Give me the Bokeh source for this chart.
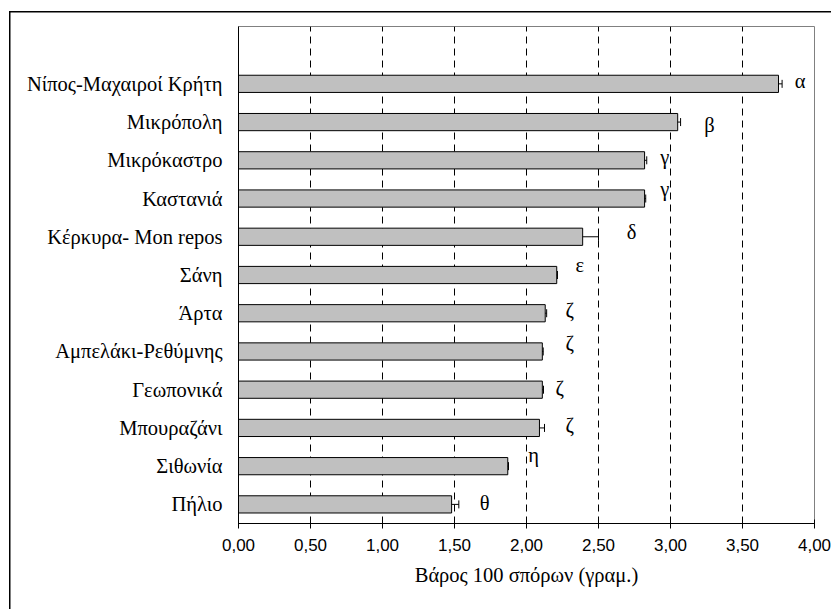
from math import pi
from bokeh.plotting import figure
from bokeh.models import Range1d, FixedTicker, ColumnDataSource
from bokeh.core.properties import value
from bokeh.embed import file_html
from bokeh.resources import INLINE

# ---- data (top to bottom as in the chart) ----
sites = ["Νίπος-Μαχαιροί Κρήτη", "Μικρόπολη", "Μικρόκαστρο", "Καστανιά",
         "Κέρκυρα- Mon repos", "Σάνη", "Άρτα", "Αμπελάκι-Ρεθύμνης",
         "Γεωπονικά", "Μπουραζάνι", "Σιθωνία", "Πήλιο"]
weights = [3.75, 3.05, 2.82, 2.82, 2.39, 2.21, 2.13, 2.11, 2.11, 2.09, 1.87, 1.48]
errors = [0.025, 0.02, 0.015, 0.008, 0.11, 0.005, 0.01, 0.006, 0.008, 0.035, 0.005, 0.05]
letters = ["α", "β", "γ", "γ", "δ", "ε", "ζ", "ζ", "ζ", "ζ", "η", "θ"]
letter_x = [3.90, 3.27, 2.96, 2.96, 2.73, 2.37, 2.30, 2.30, 2.23, 2.30, 2.05, 1.71]
letter_dy = [-1.5, 4.4, -2.4, -8.7, -4.0, -8.8, -2.7, -7.5, -1.0, -2.4, -9.8, 0.0]
x_ticks = [0.0, 0.5, 1.0, 1.5, 2.0, 2.5, 3.0, 3.5, 4.0]
x_tick_labels = ["0,00", "0,50", "1,00", "1,50", "2,00", "2,50", "3,00", "3,50", "4,00"]
x_title = "Βάρος 100 σπόρων (γραμ.)"

SERIF = "Liberation Serif"
SANS = "Liberation Sans"

n = len(sites)
ypos = [n - 1 - i for i in range(n)]
upper = [w + e for w, e in zip(weights, errors)]
src = ColumnDataSource(dict(y=ypos, w=weights, up=upper))
lsrc = ColumnDataSource(dict(x=letter_x, y=ypos, t=letters,
                             dy=[d - 1.0 for d in letter_dy]))

p = figure(width=822, height=598, output_backend="svg", toolbar_location=None,
           x_range=Range1d(0, 4), y_range=Range1d(-0.5, n + 0.5),
           min_border_left=229, min_border_right=17, min_border_top=15,
           min_border_bottom=86)
p.margin = (11, 0, 0, 9)
# outer chart-area border: only its left and top edges fall inside the window
p.styles = {"box-shadow": "inset 1.5px 1.5px 0 0 black", "background": "white"}

p.outline_line_color = "#808080"
p.outline_line_width = 1
p.background_fill_color = "white"
p.border_fill_alpha = 0

p.ygrid.visible = False
p.xgrid.ticker = FixedTicker(ticks=x_ticks[1:-1])
p.xgrid.grid_line_color = "black"
p.xgrid.grid_line_dash = "7 5"
p.xgrid.grid_line_width = 1

p.hbar(y="y", right="w", left=0, height=0.45, source=src,
       fill_color="#c0c0c0", line_color="black", line_width=1)
p.segment(x0="w", y0="y", x1="up", y1="y", source=src, line_color="black", line_width=1)
p.scatter(x="up", y="y", source=src, marker="dash", angle=pi / 2, size=8,
          line_color="black", line_width=1)

p.text(x="x", y="y", text="t", y_offset="dy", source=lsrc,
       text_font=value(SERIF), text_font_size="20.5px",
       text_color="black", text_align="center", text_baseline="alphabetic")

p.xaxis.ticker = FixedTicker(ticks=x_ticks)
p.xaxis.major_label_overrides = {t: l for t, l in zip(x_ticks, x_tick_labels)}
p.xaxis.major_label_text_font = SANS
p.xaxis.major_label_text_font_size = "17px"
p.xaxis.major_label_text_color = "black"
p.xaxis.major_tick_in = 4
p.xaxis.major_tick_out = 5
p.xaxis.minor_tick_line_color = None
p.xaxis.axis_line_color = "black"
p.xaxis.major_tick_line_color = "black"
p.xaxis.major_label_standoff = 10
p.xaxis.axis_label = x_title
p.xaxis.axis_label_text_font = SERIF
p.xaxis.axis_label_text_font_size = "20.5px"
p.xaxis.axis_label_text_font_style = "normal"
p.xaxis.axis_label_text_color = "black"
p.xaxis.axis_label_standoff = 10

p.yaxis.ticker = FixedTicker(ticks=ypos)
p.yaxis.major_label_overrides = {y: s for y, s in zip(ypos, sites)}
p.yaxis.major_label_text_font = SERIF
p.yaxis.major_label_text_font_size = "20.5px"
p.yaxis.major_label_text_color = "black"
p.yaxis.major_tick_in = 0
p.yaxis.major_tick_out = 0
p.yaxis.minor_tick_line_color = None
p.yaxis.axis_line_color = "black"
p.yaxis.major_label_standoff = 16

open("out.html", "w").write(file_html(p, INLINE))
